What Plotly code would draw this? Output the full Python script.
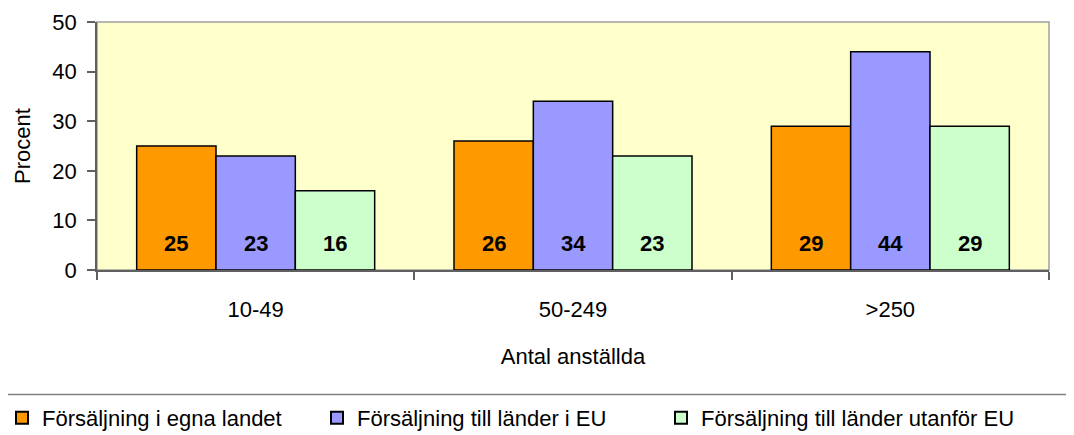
import plotly.graph_objects as go

categories = ["10-49", "50-249", ">250"]
series_names = ["Försäljning i egna landet", "Försäljning till länder i EU", "Försäljning till länder utanför EU"]
values_domestic = [25, 26, 29]
values_eu = [23, 34, 44]
values_non_eu = [16, 23, 29]
colors = ["#FF9900", "#9999FF", "#CCFFCC"]
y_ticks = [0, 10, 20, 30, 40, 50]

FONT = "Liberation Sans, Arial, sans-serif"
FS = 22
BODY = 8  # default page margin of the html body
W, H = 1074 - BODY, 435 - BODY
ML, MR, MT, MB = 97 - BODY, 25, 22 - BODY, 165

plot_w = W - ML - MR
plot_h = H - MT - MB

def px_x(p):
    return (p - BODY - ML) / plot_w

def px_y(p):
    return (MT + plot_h - (p - BODY)) / plot_h

legend_ids = ["legend", "legend2", "legend3"]
legend_left_px = [2, 317, 661]

fig = go.Figure()
all_values = [values_domestic, values_eu, values_non_eu]
for name, vals, col, lid in zip(series_names, all_values, colors, legend_ids):
    fig.add_trace(go.Bar(
        x=categories, y=vals, name=name, legend=lid,
        marker=dict(color=col, line=dict(color="#000000", width=1.5)),
        hoverinfo="x+y+name",
    ))

bargap = 0.25
cat_px = plot_w / len(categories)
bar_px = cat_px * (1 - bargap) / len(series_names)
annotations = []
for i, vals in enumerate(all_values):
    for cat, v in zip(categories, vals):
        annotations.append(dict(
            x=cat, y=0, xref="x", yref="y", text=f"<b>{v}</b>", showarrow=False,
            xshift=(i - 1) * bar_px, yshift=27, yanchor="middle",
            font=dict(family=FONT, size=FS, color="#000000"),
        ))

legend_style = dict(
    orientation="h", xanchor="left", y=px_y(397), yanchor="top",
    borderwidth=0, bgcolor="rgba(0,0,0,0)",
    font=dict(family=FONT, size=FS, color="#000000"),
    itemsizing="constant",
)
legends = {lid: dict(legend_style, x=px_x(lx)) for lid, lx in zip(legend_ids, legend_left_px)}

fig.update_layout(
    width=W, height=H,
    margin=dict(l=ML, r=MR, t=MT, b=MB, pad=0, autoexpand=False),
    paper_bgcolor="#FFFFFF",
    plot_bgcolor="#FFFFCC",
    barmode="group", bargap=bargap, bargroupgap=0,
    font=dict(family=FONT, size=FS, color="#000000"),
    showlegend=True,
    annotations=annotations,
    shapes=[
        dict(type="rect", xref="paper", yref="paper", x0=0, x1=1, y0=0, y1=1,
             line=dict(color="#A0A0A0", width=1.5), layer="below"),
        dict(type="rect", xref="paper", yref="paper", x0=px_x(6), x1=px_x(1090),
             y0=px_y(394.5), y1=px_y(460), line=dict(color="#808080", width=1.5),
             fillcolor="rgba(0,0,0,0)", layer="above"),
    ],
    **legends,
)
fig.update_xaxes(
    type="category", showline=True, linecolor="#606060", linewidth=1.5,
    ticks="outside", tickson="boundaries", ticklen=8, tickcolor="#606060", tickwidth=1.5,
    showgrid=False, zeroline=False, automargin=False,
    ticklabelstandoff=19,
    title=dict(text="Antal anställda", standoff=27, font=dict(family=FONT, size=FS)),
)
fig.update_yaxes(
    range=[0, 50], tickvals=y_ticks, showline=True, linecolor="#606060", linewidth=1.5,
    ticks="outside", ticklen=8, tickcolor="#606060", tickwidth=1.5,
    showgrid=False, zeroline=False, automargin=False,
    ticklabelstandoff=6,
    title=dict(text="Procent", standoff=16, font=dict(family=FONT, size=FS)),
)

fig.write_html("out.html")
